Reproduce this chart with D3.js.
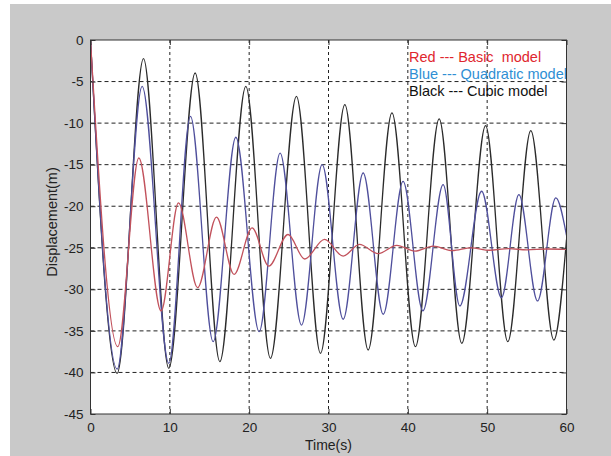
<!DOCTYPE html>
<html>
<head>
<meta charset="utf-8">
<script src="https://cdn.jsdelivr.net/npm/d3@7"></script>
<style>
  html, body { margin: 0; padding: 0; background: #ffffff; }
  svg { display: block; }
  text { font-family: "Liberation Sans", Arial, sans-serif; }
</style>
</head>
<body>
<svg id="chart" width="611" height="456"></svg>
<script>
// ---- data ----
const xTicks = [0, 10, 20, 30, 40, 50, 60];
const yTicks = [0, -5, -10, -15, -20, -25, -30, -35, -40, -45];

const redT = [0, 3.44, 6.09, 8.9, 11.09, 13.5, 15.88, 18.1, 20.37, 22.47, 24.9, 27.0, 29.5, 31.85, 33.9, 36.26, 38.6, 40.9, 43.2, 45.6, 48.0, 50.3, 52.7, 55.0, 57.5, 60];
const redV = [0, -36.9, -14.2, -32.6, -19.6, -29.8, -21.3, -28.2, -22.6, -27.2, -23.4, -26.35, -24.0, -26.0, -24.6, -25.7, -24.7, -25.4, -24.8, -25.35, -25.0, -25.3, -25.1, -25.25, -25.15, -25.2];

const blueT = [0, 3.36, 6.51, 9.87, 12.6, 15.46, 18.32, 21.26, 23.9, 26.6, 29.2, 31.85, 34.37, 36.9, 39.4, 41.9, 44.45, 46.55, 49.3, 51.8, 54.0, 56.35, 58.65, 60];
const blueV = [0, -39.6, -5.57, -38.9, -9.18, -36.3, -11.7, -35.1, -13.6, -34.3, -15.0, -33.6, -16.0, -33.0, -17.0, -32.6, -17.4, -32.0, -18.2, -31.0, -18.6, -31.4, -19.0, -23.5];

const blackT = [0, 3.36, 6.68, 9.87, 13.19, 16.3, 19.58, 22.68, 25.96, 28.99, 32.06, 35.0, 38.0, 40.96, 43.95, 46.8, 49.8, 52.6, 55.5, 58.4, 60];
const blackV = [0, -40.1, -2.25, -39.5, -3.97, -38.7, -5.57, -38.3, -6.78, -37.7, -7.78, -37.3, -8.78, -36.9, -9.5, -36.5, -10.3, -36.3, -10.9, -36.1, -24.0];

const legendLabels = ["Red --- Basic\u00A0 model", "Blue --- Quadratic model", "Black --- Cubic model"];
const xLabel = "Time(s)";
const yLabel = "Displacement(m)";

// ---- layout ----
const W = 611, H = 456;
const L = 90.5, R = 566.5, T = 40, B = 414;

const svg = d3.select("#chart");
svg.append("rect").attr("x", 10).attr("y", 4).attr("width", W - 10).attr("height", H - 4).attr("fill", "#c9c9c9");
svg.append("rect").attr("x", L).attr("y", T).attr("width", R - L).attr("height", B - T).attr("fill", "#ffffff");

const x = d3.scaleLinear().domain([0, 60]).range([L, R]);
const y = d3.scaleLinear().domain([-45, 0]).range([B, T]);

// grid
const grid = svg.append("g");
grid.selectAll("line.gx").data(xTicks.filter(d => d > 0 && d < 60)).join("line")
  .attr("x1", d => x(d)).attr("x2", d => x(d)).attr("y1", T).attr("y2", B)
  .attr("stroke", "#222").attr("stroke-width", 1).attr("stroke-dasharray", "3,3");
grid.selectAll("line.gy").data(yTicks.filter(d => d < 0 && d > -45)).join("line")
  .attr("x1", L).attr("x2", R).attr("y1", d => y(d)).attr("y2", d => y(d))
  .attr("stroke", "#222").attr("stroke-width", 1).attr("stroke-dasharray", "4,3");

// lines
svg.append("clipPath").attr("id", "clip").append("rect")
  .attr("x", L).attr("y", T).attr("width", R - L).attr("height", B - T);
const lineGen = d3.line().x(d => x(d[0])).y(d => y(d[1])).curve(d3.curveMonotoneX);
const series = [
  { t: blackT, v: blackV, color: "#2b2b2b" },
  { t: blueT, v: blueV, color: "#4f4f9c" },
  { t: redT, v: redV, color: "#c2525c" }
];
const lines = svg.append("g").attr("clip-path", "url(#clip)");
series.forEach(s => {
  lines.append("path")
    .datum(s.t.map((t, i) => [t, s.v[i]]))
    .attr("d", lineGen)
    .attr("fill", "none")
    .attr("stroke", s.color)
    .attr("stroke-width", 1.3);
});

// legend text
const legendColors = ["#e0262e", "#2f8fd4", "#111111"];
svg.append("g").selectAll("text").data(legendLabels).join("text")
  .attr("x", 409).attr("y", (d, i) => 61.5 + i * 17.3)
  .attr("fill", (d, i) => legendColors[i])
  .attr("font-size", "14.5px")
  .text(d => d);

// axes
const xAxis = d3.axisBottom(x).tickValues(xTicks).tickSize(-5).tickPadding(8).tickFormat(d3.format("d"));
const yAxis = d3.axisLeft(y).tickValues(yTicks).tickSize(-5).tickPadding(7).tickFormat(d => d === 0 ? "0" : String(d));
const gx = svg.append("g").attr("transform", `translate(0,${B})`).call(xAxis);
const gy = svg.append("g").attr("transform", `translate(${L},0)`).call(yAxis);
[gx, gy].forEach(g => {
  g.select(".domain").remove();
  g.selectAll(".tick line").attr("stroke", "#333");
  g.selectAll(".tick text").attr("fill", "#222").attr("font-size", "13.5px")
    .attr("font-family", "\"Liberation Sans\", Arial, sans-serif");
});
// top / right ticks
const xAxisTop = d3.axisTop(x).tickValues(xTicks).tickSize(-5).tickFormat("");
const yAxisRight = d3.axisRight(y).tickValues(yTicks).tickSize(-5).tickFormat("");
const gxt = svg.append("g").attr("transform", `translate(0,${T})`).call(xAxisTop);
const gyr = svg.append("g").attr("transform", `translate(${R},0)`).call(yAxisRight);
[gxt, gyr].forEach(g => { g.select(".domain").remove(); g.selectAll(".tick line").attr("stroke", "#333"); });

// box
svg.append("rect").attr("x", L).attr("y", T).attr("width", R - L).attr("height", B - T)
  .attr("fill", "none").attr("stroke", "#333").attr("stroke-width", 1);

// axis labels
svg.append("text").attr("x", (L + R) / 2).attr("y", 450).attr("text-anchor", "middle")
  .attr("font-size", "14px").attr("fill", "#222").text(xLabel);
svg.append("text").attr("transform", `translate(57,${(T + B) / 2 - 5}) rotate(-90)`)
  .attr("text-anchor", "middle").attr("font-size", "14.5px").attr("fill", "#222").text(yLabel);
</script>
</body>
</html>
